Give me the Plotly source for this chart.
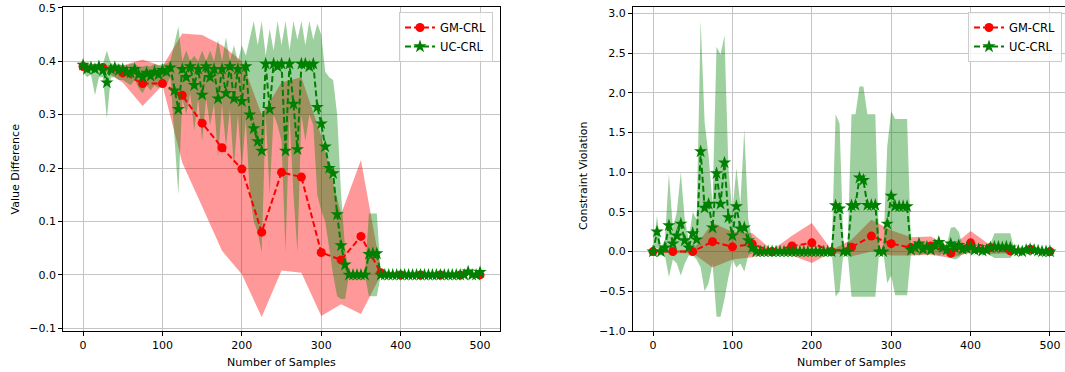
import plotly.graph_objects as go

# ---------------- data ----------------
X_GM = list(range(0, 501, 25))
X_UC = list(range(0, 501, 5))

# Left panel: Value Difference
GM_VD_MEAN = [0.390, 0.388, 0.378, 0.358, 0.358, 0.336, 0.284, 0.238, 0.198, 0.080,
              0.192, 0.183, 0.042, 0.028, 0.072, 0.004, 0.0, 0.0, 0.0, 0.0, 0.0]
GM_VD_UPPER = [0.395, 0.392, 0.392, 0.403, 0.390, 0.452, 0.449, 0.430, 0.400, 0.300,
               0.360, 0.370, 0.260, 0.114, 0.215, 0.010, 0.0, 0.0, 0.0, 0.0, 0.0]
GM_VD_LOWER = [0.385, 0.384, 0.360, 0.316, 0.355, 0.210, 0.128, 0.045, 0.001, -0.079,
               0.008, 0.004, -0.077, -0.055, -0.073, 0.0, 0.0, 0.0, 0.0, 0.0, 0.0]

UC_VD_MEAN = [
    0.393, 0.385, 0.388, 0.385, 0.390, 0.383, 0.360, 0.385, 0.388, 0.383,
    0.385, 0.380, 0.378, 0.385, 0.375, 0.370, 0.378, 0.372, 0.380, 0.375,
    0.383, 0.380, 0.388, 0.345, 0.310, 0.385, 0.370, 0.390, 0.355, 0.385,
    0.337, 0.390, 0.370, 0.385, 0.330, 0.385, 0.340, 0.390, 0.330, 0.385,
    0.325, 0.390, 0.300, 0.274, 0.250, 0.232, 0.395, 0.310, 0.395, 0.390,
    0.395, 0.232, 0.395, 0.320, 0.235, 0.395, 0.395, 0.390, 0.395, 0.314,
    0.283, 0.240, 0.200, 0.190, 0.113, 0.055, 0.019, 0.0, 0.0, 0.0,
    0.0, 0.0, 0.039, 0.040, 0.040, 0.0, 0.0, 0.0, 0.0, 0.0,
    0.0, 0.0, 0.0, 0.0, 0.0, 0.0, 0.0, 0.0, 0.0, 0.0,
    0.0, 0.0, 0.0, 0.0, 0.0, 0.0, 0.0, 0.006, 0.0, 0.0,
    0.005]
UC_VD_UPPER = [
    0.400, 0.395, 0.395, 0.395, 0.395, 0.395, 0.420, 0.395, 0.395, 0.395,
    0.392, 0.392, 0.395, 0.395, 0.390, 0.390, 0.392, 0.390, 0.395, 0.392,
    0.395, 0.395, 0.400, 0.430, 0.465, 0.400, 0.420, 0.400, 0.410, 0.400,
    0.420, 0.400, 0.420, 0.400, 0.440, 0.400, 0.445, 0.400, 0.430, 0.400,
    0.430, 0.410, 0.440, 0.475, 0.430, 0.475, 0.410, 0.460, 0.420, 0.475,
    0.430, 0.475, 0.420, 0.475, 0.440, 0.475, 0.430, 0.475, 0.440, 0.470,
    0.450, 0.380, 0.370, 0.365, 0.300, 0.150, 0.050, 0.0, 0.0, 0.0,
    0.0, 0.0, 0.115, 0.115, 0.115, 0.0, 0.0, 0.0, 0.0, 0.0,
    0.0, 0.0, 0.0, 0.0, 0.0, 0.0, 0.0, 0.0, 0.0, 0.0,
    0.0, 0.0, 0.0, 0.0, 0.0, 0.0, 0.0, 0.012, 0.0, 0.0,
    0.012]
UC_VD_LOWER = [
    0.380, 0.370, 0.375, 0.336, 0.370, 0.370, 0.292, 0.370, 0.370, 0.365,
    0.365, 0.360, 0.355, 0.365, 0.350, 0.340, 0.355, 0.345, 0.355, 0.350,
    0.360, 0.355, 0.370, 0.260, 0.150, 0.330, 0.300, 0.340, 0.270, 0.330,
    0.250, 0.330, 0.280, 0.320, 0.220, 0.320, 0.240, 0.310, 0.200, 0.300,
    0.200, 0.290, 0.150, 0.100, 0.080, 0.042, 0.300, 0.150, 0.300, 0.280,
    0.250, 0.042, 0.300, 0.150, 0.042, 0.300, 0.250, 0.300, 0.280, 0.150,
    0.120, 0.100, 0.050, 0.000, -0.040, -0.045, -0.045, 0.0, 0.0, 0.0,
    0.0, 0.0, -0.040, -0.040, -0.040, 0.0, 0.0, 0.0, 0.0, 0.0,
    0.0, 0.0, 0.0, 0.0, 0.0, 0.0, 0.0, 0.0, 0.0, 0.0,
    0.0, 0.0, 0.0, 0.0, 0.0, 0.0, 0.0, 0.0, 0.0, 0.0,
    0.0]

# Right panel: Constraint Violation
GM_CV_MEAN = [0.0, 0.0, 0.0, 0.125, 0.06, 0.095, 0.0, 0.07, 0.11, 0.0,
              0.055, 0.195, 0.10, 0.05, 0.07, -0.02, 0.11, 0.05, 0.01, 0.03, 0.0]
GM_CV_UPPER = [0.0, 0.02, 0.02, 0.36, 0.25, 0.23, 0.02, 0.20, 0.36, 0.02,
               0.15, 0.40, 0.27, 0.18, 0.19, 0.05, 0.26, 0.08, 0.04, 0.05, 0.0]
GM_CV_LOWER = [0.0, -0.02, -0.02, -0.20, -0.10, -0.07, -0.02, -0.05, -0.145, -0.01,
               -0.06, 0.0, -0.05, -0.05, -0.04, -0.08, -0.01, -0.03, -0.02, 0.0, 0.0]

UC_CV_MEAN = [
    0.0, 0.25, 0.0, 0.05, 0.33, 0.10, 0.20, 0.35, 0.14, 0.05,
    0.23, 0.15, 1.26, 0.55, 0.60, 0.30, 0.985, 0.60, 1.12, 0.43,
    0.20, 0.57, 0.29, 0.30, 0.14, 0.05, 0.0, 0.0, 0.0, 0.0,
    0.0, 0.0, 0.0, 0.0, 0.0, 0.0, 0.0, 0.0, 0.0, 0.0,
    0.0, 0.0, 0.0, 0.0, 0.0, 0.0, 0.58, 0.54, 0.0, 0.0,
    0.58, 0.586, 0.93, 0.90, 0.586, 0.586, 0.586, 0.0, 0.0, 0.35,
    0.70, 0.57, 0.57, 0.57, 0.57, 0.02, 0.05, 0.10, 0.03, 0.06,
    0.02, 0.08, 0.12, 0.05, 0.02, 0.10, 0.05, 0.08, 0.03, 0.04,
    0.06, 0.02, 0.03, 0.01, 0.02, 0.05, 0.06, 0.06, 0.05, 0.06,
    0.05, 0.01, 0.01, 0.0, 0.02, 0.03, 0.02, 0.01, 0.0, 0.0,
    0.0]
UC_CV_UPPER = [
    0.0, 0.45, 0.05, 0.15, 0.98, 0.30, 0.50, 1.00, 0.40, 0.15,
    0.50, 0.40, 2.91, 1.63, 1.20, 0.60, 2.58, 2.48, 2.72, 1.05,
    0.50, 1.05, 0.60, 1.54, 0.40, 0.15, 0.02, 0.0, 0.0, 0.0,
    0.0, 0.0, 0.0, 0.0, 0.0, 0.0, 0.0, 0.0, 0.0, 0.0,
    0.0, 0.0, 0.0, 0.0, 0.0, 0.0, 1.73, 1.61, 0.0, 0.0,
    1.73, 1.73, 2.08, 2.08, 1.73, 1.73, 1.73, 0.0, 0.0, 1.32,
    1.77, 1.67, 1.67, 1.67, 1.67, 0.05, 0.10, 0.15, 0.10, 0.12,
    0.05, 0.12, 0.15, 0.10, 0.08, 0.30, 0.31, 0.25, 0.08, 0.06,
    0.08, 0.04, 0.05, 0.03, 0.04, 0.10, 0.23, 0.23, 0.23, 0.23,
    0.23, 0.03, 0.02, 0.01, 0.04, 0.05, 0.04, 0.02, 0.01, 0.0,
    0.0]
UC_CV_LOWER = [
    0.0, 0.05, -0.05, -0.05, -0.32, -0.10, -0.15, -0.30, -0.15, -0.05,
    -0.05, -0.10, -0.20, -0.50, -0.40, -0.15, -0.82, -0.82, -0.60, -0.32,
    -0.10, -0.20, -0.15, -0.25, -0.05, -0.02, -0.02, 0.0, 0.0, 0.0,
    0.0, 0.0, 0.0, 0.0, 0.0, 0.0, 0.0, 0.0, 0.0, 0.0,
    0.0, 0.0, 0.0, 0.0, 0.0, 0.0, -0.57, -0.50, 0.0, 0.0,
    -0.57, -0.57, -0.57, -0.57, -0.57, -0.57, -0.57, 0.0, 0.0, -0.40,
    -0.30, -0.55, -0.55, -0.55, -0.55, -0.02, -0.03, -0.05, -0.03, -0.03,
    -0.02, -0.03, -0.05, -0.03, -0.02, -0.08, -0.10, -0.08, -0.03, -0.02,
    -0.02, -0.01, -0.02, -0.01, -0.02, -0.05, -0.08, -0.08, -0.08, -0.08,
    -0.08, -0.02, -0.01, -0.01, -0.02, -0.01, -0.01, -0.01, 0.0, 0.0,
    0.0]

X_TICKS = [0, 100, 200, 300, 400, 500]
VD_TICKS = [-0.1, 0.0, 0.1, 0.2, 0.3, 0.4, 0.5]
CV_TICKS = [-1.0, -0.5, 0.0, 0.5, 1.0, 1.5, 2.0, 2.5, 3.0]

# ---------------- styling ----------------
W, H = 1065, 372
FONT = "DejaVu Sans"
RED = "#ff0000"
GREEN = "#008000"
RED_FILL = "rgba(255,0,0,0.4)"
GREEN_FILL = "rgba(0,128,0,0.38)"
DASH = "6px,3px"

fig = go.Figure()


def band(x, lo, hi, color, xa, ya):
    fig.add_trace(go.Scatter(
        x=list(x) + list(x)[::-1], y=list(hi) + list(lo)[::-1],
        fill="toself", fillcolor=color, mode="lines", line=dict(width=0),
        hoverinfo="skip", showlegend=False, xaxis=xa, yaxis=ya))


def series(x, y, name, color, symbol, size, xa, ya, legend):
    fig.add_trace(go.Scatter(
        x=x, y=y, name=name, mode="lines+markers",
        line=dict(color=color, width=2, dash=DASH),
        marker=dict(color=color, symbol=symbol, size=size, line=dict(width=0)),
        xaxis=xa, yaxis=ya, legend=legend))


# left panel
band(X_GM, GM_VD_LOWER, GM_VD_UPPER, RED_FILL, "x", "y")
band(X_UC, UC_VD_LOWER, UC_VD_UPPER, GREEN_FILL, "x", "y")
series(X_GM, GM_VD_MEAN, "GM-CRL", RED, "circle", 9, "x", "y", "legend")
series(X_UC, UC_VD_MEAN, "UC-CRL", GREEN, "star", 10, "x", "y", "legend")

# right panel
band(X_GM, GM_CV_LOWER, GM_CV_UPPER, RED_FILL, "x2", "y2")
band(X_UC, UC_CV_LOWER, UC_CV_UPPER, GREEN_FILL, "x2", "y2")
series(X_GM, GM_CV_MEAN, "GM-CRL", RED, "circle", 9, "x2", "y2", "legend2")
series(X_UC, UC_CV_MEAN, "UC-CRL", GREEN, "star", 10, "x2", "y2", "legend2")

# pixel geometry
top_px, bot_px = 7, 331
ydom = [(H - bot_px) / H, (H - top_px) / H]

axis_common = dict(
    showgrid=True, gridcolor="#c4c4c4", gridwidth=1, automargin=False,
    zeroline=False, showline=True, linecolor="black", linewidth=1,
    ticks="outside", ticklen=4, tickwidth=1, tickcolor="black",
    tickfont=dict(family=FONT, size=11, color="black"),
)

legend_common = dict(
    xanchor="right", yanchor="top",
    bgcolor="rgba(255,255,255,0.8)", bordercolor="#cccccc", borderwidth=1,
    font=dict(family=FONT, size=11.5, color="black"),
    tracegroupgap=0, itemwidth=30,
)

fig.update_layout(
    width=W, height=H,
    margin=dict(l=0, r=0, t=0, b=0, autoexpand=False),
    paper_bgcolor="white", plot_bgcolor="white",
    font=dict(family=FONT, size=11, color="black"),
    xaxis=dict(domain=[63.2 / W, 499.9 / W], range=[-25, 525],
               tickvals=X_TICKS, mirror=True, anchor="y", **axis_common),
    yaxis=dict(domain=ydom, range=[-0.105, 0.5014], tickvals=VD_TICKS,
               tickformat=".1f", mirror=True, anchor="x", **axis_common),
    xaxis2=dict(domain=[633 / W, 1.0], range=[-25.2, 518.9],
                tickvals=X_TICKS, mirror=True, anchor="y2", **axis_common),
    yaxis2=dict(domain=ydom, range=[-1.0, 3.08], tickvals=CV_TICKS,
                tickformat=".1f", mirror=False, anchor="x2", **axis_common),
    legend=dict(x=493 / W, y=(H - 12) / H, **legend_common),
    legend2=dict(x=1062 / W, y=(H - 12) / H, **legend_common),
    annotations=[
        dict(text="Number of Samples", x=281.5 / W, y=(H - 362) / H,
             xref="paper", yref="paper", showarrow=False,
             xanchor="center", yanchor="middle", font=dict(size=11)),
        dict(text="Number of Samples", x=851.5 / W, y=(H - 362) / H,
             xref="paper", yref="paper", showarrow=False,
             xanchor="center", yanchor="middle", font=dict(size=11)),
        dict(text="Value Difference", x=14.5 / W, y=(H - 169) / H,
             xref="paper", yref="paper", showarrow=False, textangle=-90,
             xanchor="center", yanchor="middle", font=dict(size=11)),
        dict(text="Constraint Violation", x=583 / W, y=(H - 176) / H,
             xref="paper", yref="paper", showarrow=False, textangle=-90,
             xanchor="center", yanchor="middle", font=dict(size=11)),
    ],
)

fig.write_html(
    "out.html",
    config={"displayModeBar": False},
    post_script="document.body.style.margin='0px';"
                "document.body.style.overflow='hidden';",
)
